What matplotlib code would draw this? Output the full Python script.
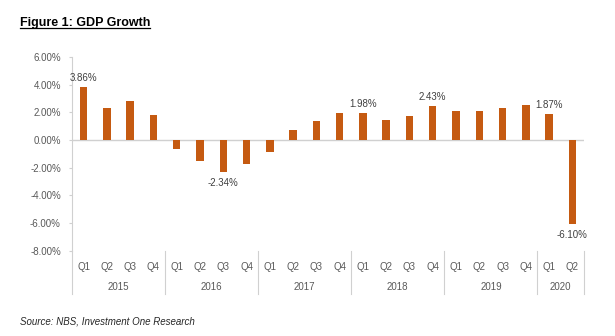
import matplotlib.pyplot as plt
from matplotlib.lines import Line2D
from matplotlib.transforms import blended_transform_factory

plt.rcParams['font.family'] = ['Liberation Sans', 'DejaVu Sans']

years = ['2015', '2016', '2017', '2018', '2019', '2020']
quarters_per_year = [4, 4, 4, 4, 4, 2]
quarters = ['Q1', 'Q2', 'Q3', 'Q4'] * 5 + ['Q1', 'Q2']
growth = [3.86, 2.35, 2.86, 1.83,
          -0.63, -1.49, -2.34, -1.71,
          -0.89, 0.74, 1.40, 1.97,
          1.98, 1.47, 1.75, 2.43,
          2.12, 2.12, 2.33, 2.55,
          1.87, -6.10]
labelled = [0, 6, 12, 15, 20, 21]

bar_color = '#C55A11'
axis_color = '#D0D0D0'
tick_color = '#595959'

fig = plt.figure(figsize=(6.15, 3.36), dpi=100)
ax = fig.add_axes([0.117, 0.254, 0.8326, 0.576])

x = list(range(len(growth)))
ax.bar(x, growth, width=0.32, color=bar_color, zorder=3)
ax.axhline(0, color=axis_color, lw=1, zorder=2)

ax.set_xlim(-0.5, len(growth) - 0.5)
ax.set_ylim(-8, 6)
ax.set_yticks(range(-8, 7, 2))
ax.set_yticklabels([f'{v:.2f}%' for v in range(-8, 7, 2)])
ax.tick_params(axis='y', length=2.5, width=0.8, color=axis_color, pad=5.5,
               labelsize=7, labelcolor=tick_color)
ax.set_xticks([])
for s in ['top', 'right', 'bottom']:
    ax.spines[s].set_visible(False)
ax.spines['left'].set_color(axis_color)
ax.spines['left'].set_bounds(-8, 6)

# value labels above / below selected bars
for i in labelled:
    v = growth[i]
    ax.annotate(f'{v:.2f}%', (i, v), xytext=(0, 3 if v > 0 else -4),
                textcoords='offset points', ha='center',
                va='bottom' if v > 0 else 'top', fontsize=7, color='#404040')

# two-level category axis: quarters then years, with separators
trans = blended_transform_factory(ax.transData, ax.transAxes)
for i, q in enumerate(quarters):
    ax.text(i, -0.085, q, transform=trans, ha='center', va='center',
            fontsize=7, color=tick_color)
start = 0
bottom = -0.224
ax.add_line(Line2D([-0.5, -0.5], [0, bottom], transform=trans, color=axis_color,
                   lw=0.8, clip_on=False))
for yr, n in zip(years, quarters_per_year):
    mid = start + (n - 1) / 2
    ax.text(mid, -0.188, yr, transform=trans, ha='center', va='center',
            fontsize=7, color=tick_color)
    edge = start + n - 0.5
    ax.add_line(Line2D([edge, edge], [0, bottom], transform=trans,
                       color=axis_color, lw=0.8, clip_on=False))
    start += n

title = fig.text(20 / 615, 1 - 26 / 336, 'Figure 1: GDP Growth', fontsize=9,
                 fontweight='bold', ha='left', va='baseline', color='black')
fig.text(20 / 615, 1 - 325 / 336, 'Source: NBS, Investment One Research',
         fontsize=7, style='italic', ha='left', va='baseline', color='#262626')

# underline the title
fig.canvas.draw()
bb = title.get_window_extent().transformed(fig.transFigure.inverted())
uy = 1 - 27.8 / 336
fig.add_artist(Line2D([bb.x0, bb.x1], [uy, uy], transform=fig.transFigure,
                      color='black', lw=0.9))

fig.savefig('out.png', dpi=100)
